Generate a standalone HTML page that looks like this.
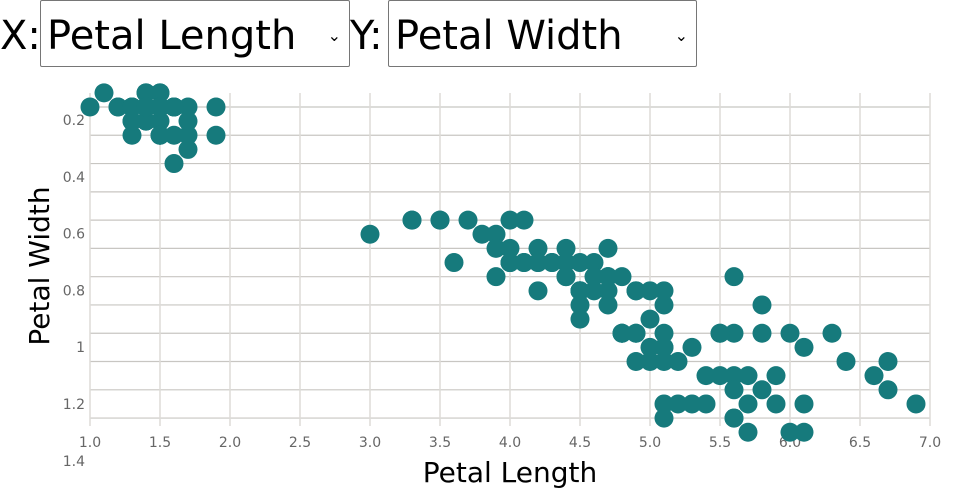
<!DOCTYPE html>
<html><head><meta charset="utf-8"><style>
body{margin:0;width:960px;height:500px;background:#fff;overflow:hidden;font-family:"DejaVu Sans","Liberation Sans",sans-serif;position:relative}
.lbl{position:absolute;top:8px;font-size:40px;color:#000;line-height:56px}
.sel{position:absolute;top:0;height:67px;border:1px solid #767676;border-radius:2px;box-sizing:border-box;font-size:40px;line-height:70px;padding-left:6px;color:#000;background:#fff;white-space:nowrap}
.sel span.car{position:absolute;right:8px;top:0;font-size:16px}
svg{position:absolute;left:0;top:0;font-family:"DejaVu Sans","Liberation Sans",sans-serif}
</style></head><body>
<div class="lbl" style="left:0">X:</div>
<div class="sel" style="left:40px;width:310px">Petal Length<span class="car">⌄</span></div>
<div class="lbl" style="left:350px">Y:</div>
<div class="sel" style="left:388px;width:309px">Petal Width<span class="car">⌄</span></div>
<svg width="960" height="500" id="chart"></svg>
<script>
const petalLength=[1.4,1.4,1.3,1.5,1.4,1.7,1.4,1.5,1.4,1.5,1.5,1.6,1.4,1.1,1.2,1.5,1.3,1.4,1.7,1.5,1.7,1.5,1.0,1.7,1.9,1.6,1.6,1.5,1.4,1.6,1.6,1.5,1.5,1.4,1.5,1.2,1.3,1.4,1.3,1.5,1.3,1.3,1.3,1.6,1.9,1.4,1.6,1.4,1.5,1.4,
4.7,4.5,4.9,4.0,4.6,4.5,4.7,3.3,4.6,3.9,3.5,4.2,4.0,4.7,3.6,4.4,4.5,4.1,4.5,3.9,4.8,4.0,4.9,4.7,4.3,4.4,4.8,5.0,4.5,3.5,3.8,3.7,3.9,5.1,4.5,4.5,4.7,4.4,4.1,4.0,4.4,4.6,4.0,3.3,4.2,4.2,4.2,4.3,3.0,4.1,
6.0,5.1,5.9,5.6,5.8,6.6,4.5,6.3,5.8,6.1,5.1,5.3,5.5,5.0,5.1,5.3,5.5,6.7,6.9,5.0,5.7,4.9,6.7,4.9,5.7,6.0,4.8,4.9,5.6,5.8,6.1,6.4,5.6,5.1,5.6,6.1,5.6,5.5,4.8,5.4,5.6,5.1,5.1,5.9,5.7,5.2,5.0,5.2,5.4,5.1];
const petalWidth=[0.2,0.2,0.2,0.2,0.2,0.4,0.3,0.2,0.2,0.1,0.2,0.2,0.1,0.1,0.2,0.4,0.4,0.3,0.3,0.3,0.2,0.4,0.2,0.5,0.2,0.2,0.4,0.2,0.2,0.2,0.2,0.4,0.1,0.2,0.2,0.2,0.2,0.1,0.2,0.2,0.3,0.3,0.2,0.6,0.4,0.3,0.2,0.2,0.2,0.2,
1.4,1.5,1.5,1.3,1.5,1.3,1.6,1.0,1.3,1.4,1.0,1.5,1.0,1.4,1.3,1.4,1.5,1.0,1.5,1.1,1.8,1.3,1.5,1.2,1.3,1.4,1.4,1.7,1.5,1.0,1.1,1.0,1.2,1.6,1.5,1.6,1.5,1.3,1.3,1.3,1.2,1.4,1.2,1.0,1.3,1.2,1.3,1.3,1.1,1.3,
2.5,1.9,2.1,1.8,2.2,2.1,1.7,1.8,1.8,2.5,2.0,1.9,2.1,2.0,2.4,2.3,1.8,2.2,2.3,1.5,2.3,2.0,2.0,1.8,2.1,1.8,1.8,1.8,2.1,1.6,1.9,2.0,2.2,1.5,1.4,2.3,2.4,1.8,1.8,2.1,2.4,2.3,1.9,2.3,2.5,2.3,1.9,2.0,2.3,1.8];
const xTicks=["1.0","1.5","2.0","2.5","3.0","3.5","4.0","4.5","5.0","5.5","6.0","6.5","7.0"];
const yTicks=["0.2","0.4","0.6","0.8","1","1.2","1.4"];
const yGrid=[0.2,0.4,0.6,0.8,1.0,1.2,1.4,1.6,1.8,2.0,2.2,2.4];
const svg=document.getElementById('chart');const NS='http://www.w3.org/2000/svg';
const xs=v=>90+(v-1)*140;
const ys=v=>107+(v-0.2)*141.4;
function mk(t,a){const e=document.createElementNS(NS,t);for(const k in a)e.setAttribute(k,a[k]);svg.appendChild(e);return e;}
yGrid.forEach(v=>{const l=mk('line',{x1:90,x2:930,y1:ys(v),y2:ys(v),stroke:'#c8c6c2','stroke-width':1.2});

});
xTicks.forEach(t=>{const x=xs(parseFloat(t));const l=mk('line',{x1:x,x2:x,y1:93,y2:426,stroke:'#dddbd7','stroke-width':1.5});


const tx=mk('text',{x:x,y:447,'text-anchor':'middle','font-size':14,fill:'#666'});tx.textContent=t;

});
yTicks.forEach((t,i)=>{const tx=mk('text',{x:85,y:125+i*56.8,'text-anchor':'end','font-size':14,fill:'#666'});tx.textContent=t;

});
petalLength.forEach((v,i)=>{const c=mk('circle',{cx:xs(v),cy:ys(petalWidth[i]),r:9.5,fill:'#167a7c'});

});
const xt=mk('text',{x:510,y:482,'text-anchor':'middle','font-size':28,fill:'#000'});xt.textContent='Petal Length';


const yt=mk('text',{x:0,y:0,'text-anchor':'middle','font-size':28,fill:'#000',transform:'translate(49,266) rotate(-90)'});yt.textContent='Petal Width';


</script>
</body></html>
